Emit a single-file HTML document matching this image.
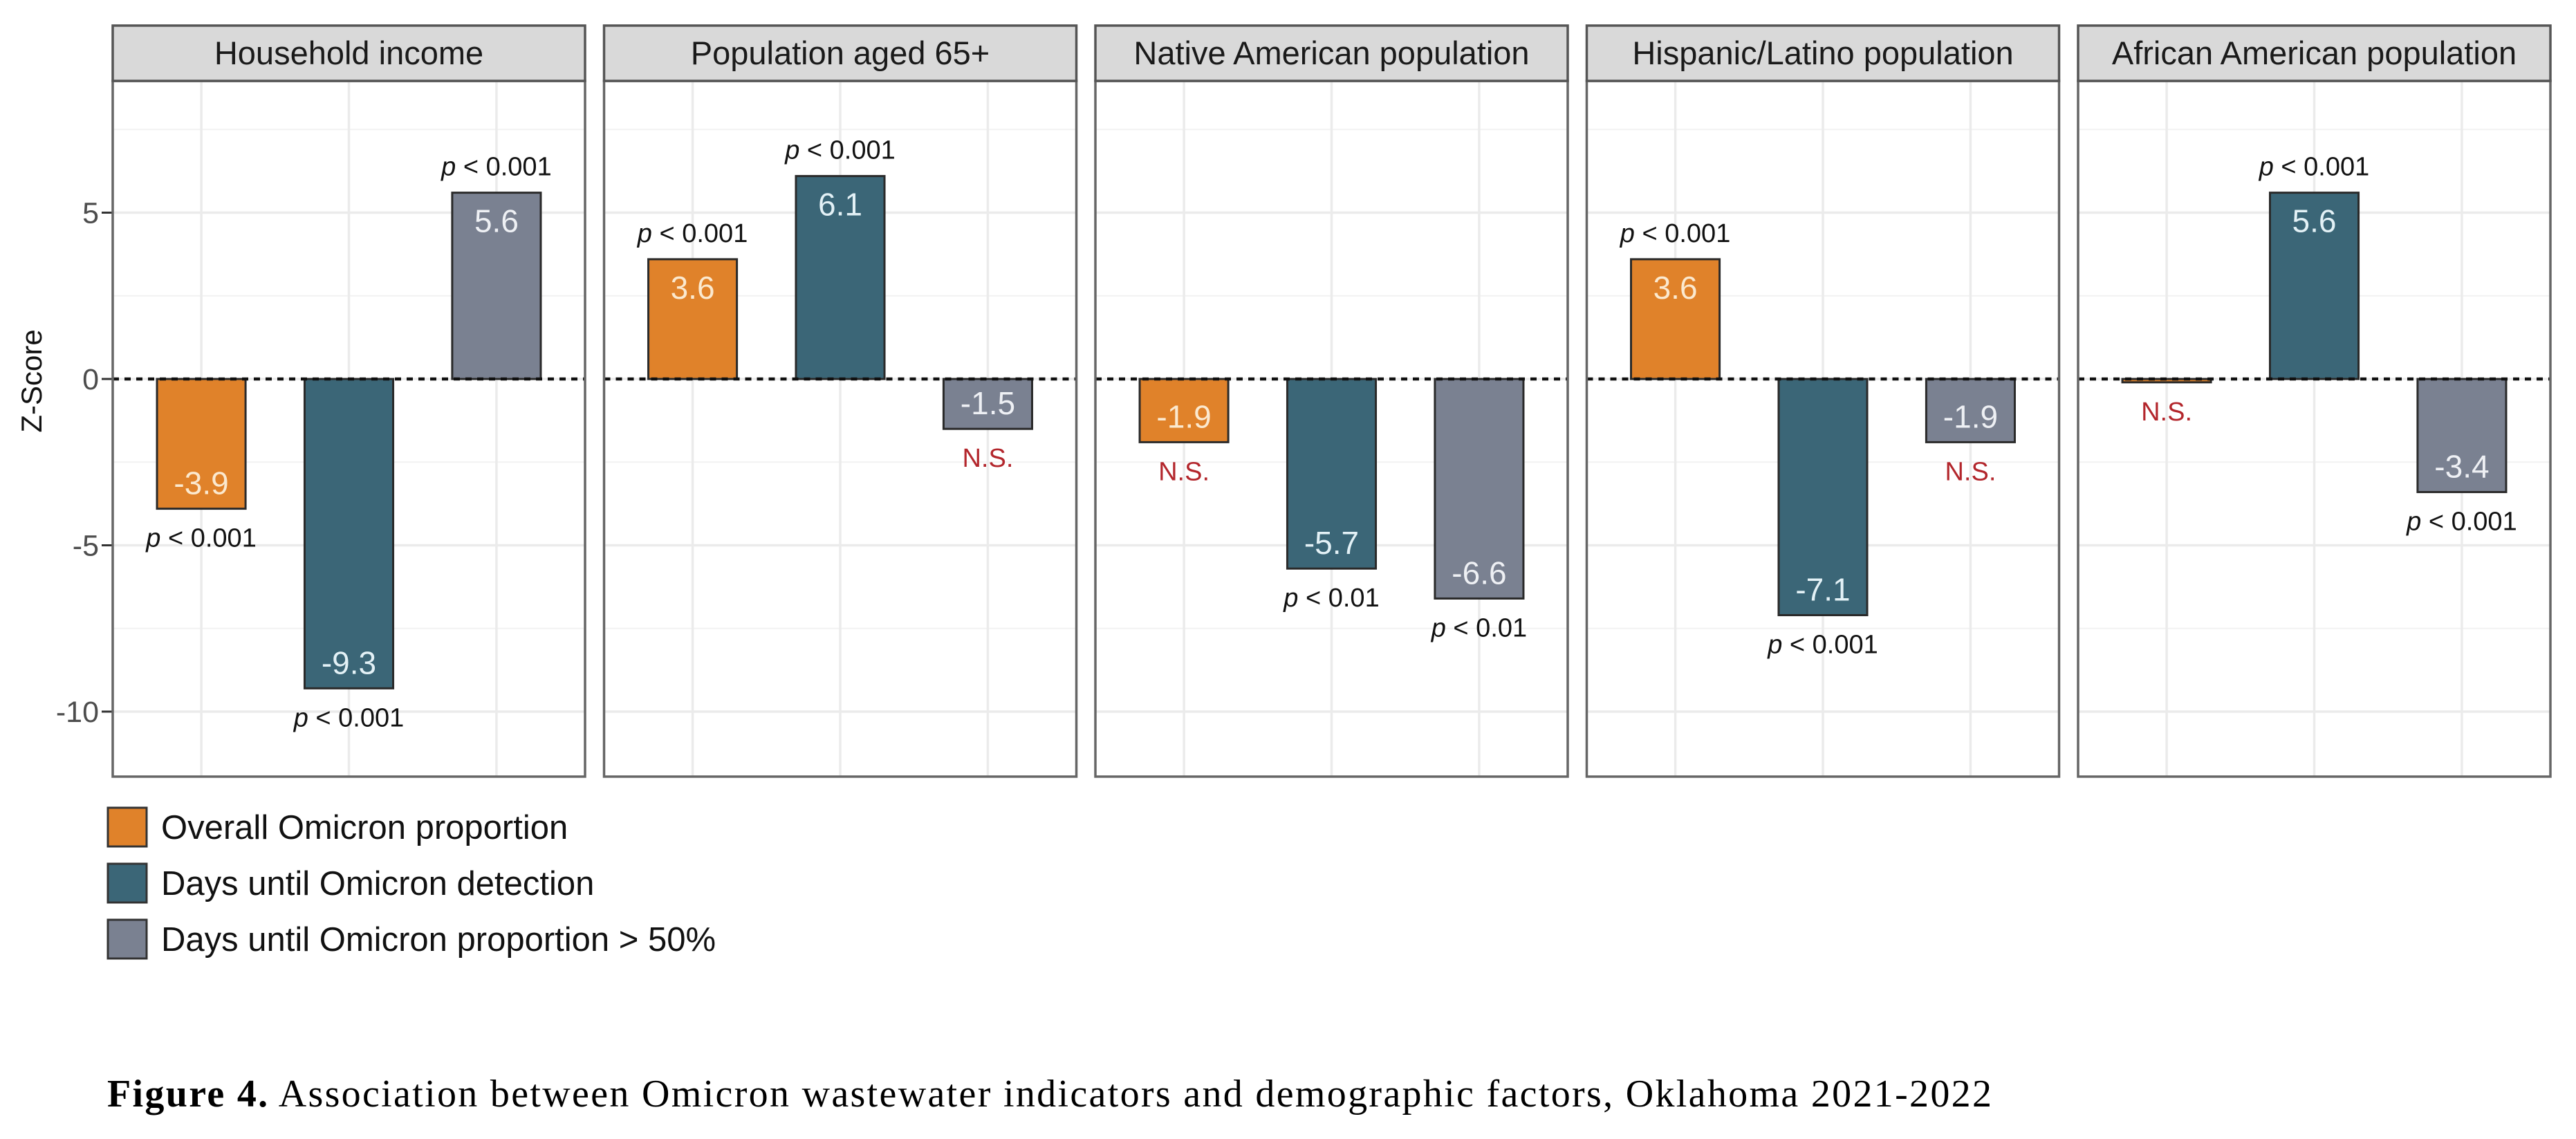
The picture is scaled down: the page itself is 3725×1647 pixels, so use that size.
<!DOCTYPE html>
<html><head><meta charset="utf-8">
<style>
html,body{margin:0;padding:0;background:#fff;}
svg{display:block;}
text{font-family:"Liberation Sans",Arial,sans-serif;}
</style></head>
<body>
<svg id="chart" width="3725" height="1647" viewBox="0 0 3725 1647" xmlns="http://www.w3.org/2000/svg"></svg>
<script>
const panels = ["Household income","Population aged 65+","Native American population","Hispanic/Latino population","African American population"];
const seriesNames = ["Overall Omicron proportion","Days until Omicron detection","Days until Omicron proportion > 50%"];
const overallVals = [-3.9, 3.6, -1.9, 3.6, -0.1];
const detectVals = [-9.3, 6.1, -5.7, -7.1, 5.6];
const fiftyVals = [5.6, -1.5, -6.6, -1.9, -3.4];
const overallSig = ["p < 0.001","p < 0.001","N.S.","p < 0.001","N.S."];
const detectSig = ["p < 0.001","p < 0.001","p < 0.01","p < 0.001","p < 0.001"];
const fiftySig = ["p < 0.001","N.S.","p < 0.01","N.S.","p < 0.001"];
const yTicks = [-10,-5,0,5];
const yMinor = [-7.5,-2.5,2.5,7.5];

const colors = ["#e0822a","#3b6677","#7a8191"];
const labelColors = ["#fbe9cf","#e3f1f6","#eef0f4"];
const NS = "http://www.w3.org/2000/svg";
const svg = document.getElementById("chart");
function el(tag, attrs, parent){const e=document.createElementNS(NS,tag);for(const k in attrs)e.setAttribute(k,attrs[k]);(parent||svg).appendChild(e);return e;}

const panelLeft0=163, panelStride=710.5, panelW=683;
const stripTop=37, stripBot=117, plotBot=1123;
const y0px=548, pxPerUnit=48.1;
function yScale(v){return y0px - v*pxPerUnit;}
function xScale(p, cat){return panelLeft0 + p*panelStride + (cat+0.6)*panelW/3.2;}
const barW = 0.6*panelW/3.2;

const valueSets=[overallVals,detectVals,fiftyVals];
const sigSets=[overallSig,detectSig,fiftySig];

// y axis
yTicks.forEach(t=>{
  const y=yScale(t);
  const tl=el("line",{x1:147,x2:163,y1:y,y2:y,stroke:"#333","stroke-width":3});
  
  
  const tx=el("text",{x:143,y:y+15,"text-anchor":"end","font-size":43,fill:"#4d4d4d"});
  tx.textContent=t;
  
  
});
const yt=el("text",{x:0,y:0,transform:"translate(60,551) rotate(-90)","text-anchor":"middle","font-size":42,fill:"#111"});
yt.textContent="Z-Score";



panels.forEach((name,p)=>{
  const g=el("g",{});
  
  
  const L=panelLeft0+p*panelStride;
  el("rect",{x:L,y:stripBot,width:panelW,height:plotBot-stripBot,fill:"#fff"},g);
  yMinor.forEach(t=>el("line",{x1:L,x2:L+panelW,y1:yScale(t),y2:yScale(t),stroke:"#f2f2f2","stroke-width":2},g));
  yTicks.forEach(t=>el("line",{x1:L,x2:L+panelW,y1:yScale(t),y2:yScale(t),stroke:"#ebebeb","stroke-width":3.5},g));
  for(let c=0;c<3;c++){const x=xScale(p,c);el("line",{x1:x,x2:x,y1:stripBot,y2:plotBot,stroke:"#ebebeb","stroke-width":3.5},g);}
  // bars
  for(let c=0;c<3;c++){
    const v=valueSets[c][p];
    const cx=xScale(p,c);
    const top=Math.min(yScale(v),y0px), h=Math.max(Math.abs(yScale(v)-y0px),2);
    const r=el("rect",{x:cx-barW/2,y:top,width:barW,height:h,fill:colors[c],stroke:"#2a2a2a","stroke-width":3},g);
    
    
    if(Math.abs(v)>=0.5){
      const ly = v>0 ? yScale(v)+57 : yScale(v)-21;
      const t=el("text",{x:cx,y:ly,"text-anchor":"middle","font-size":46,fill:labelColors[c]},g);
      t.textContent=v.toFixed(1);
      
      
    }
    const s=sigSets[c][p];
    const sy = v>0 ? yScale(v)-25 : yScale(v)+55;
    const st=el("text",{x:cx,y:sy,"text-anchor":"middle","font-size":38,fill:s==="N.S."?"#b3262c":"#111"},g);
    if(s==="N.S."){st.textContent="N.S.";}
    else{const ts=el("tspan",{"font-style":"italic"},st);ts.textContent="p";st.appendChild(document.createTextNode(s.slice(1)));}
    
    
  }
  el("line",{x1:L,x2:L+panelW,y1:y0px,y2:y0px,stroke:"#111","stroke-width":4.5,"stroke-dasharray":"9 8"},g);
  el("rect",{x:L,y:stripBot,width:panelW,height:plotBot-stripBot,fill:"none",stroke:"#666","stroke-width":3.5},g);
  const strip=el("rect",{x:L,y:stripTop,width:panelW,height:stripBot-stripTop,fill:"#d9d9d9",stroke:"#555","stroke-width":3.5},g);
  
  
  const stx=el("text",{x:L+panelW/2,y:93,"text-anchor":"middle","font-size":47,fill:"#1a1a1a"},g);
  stx.textContent=name;
  
  
});

// legend
const legY=[1168,1249,1330];
seriesNames.forEach((n,i)=>{
  const k=el("rect",{x:156,y:legY[i],width:56,height:56,fill:colors[i],stroke:"#333","stroke-width":3});
  
  
  const t=el("text",{x:233,y:legY[i]+45,"font-size":49,fill:"#111"});
  t.textContent=n;
  
  
});

// caption
const cap=el("text",{x:155,y:1600,"font-size":56,fill:"#000",textLength:2725,lengthAdjust:"spacing",style:"font-family:'Liberation Serif','Times New Roman',serif"});
const b=el("tspan",{"font-weight":"bold"},cap);b.textContent="Figure 4.";
cap.appendChild(document.createTextNode(" Association between Omicron wastewater indicators and demographic factors, Oklahoma 2021-2022"));


</script>
</body></html>
